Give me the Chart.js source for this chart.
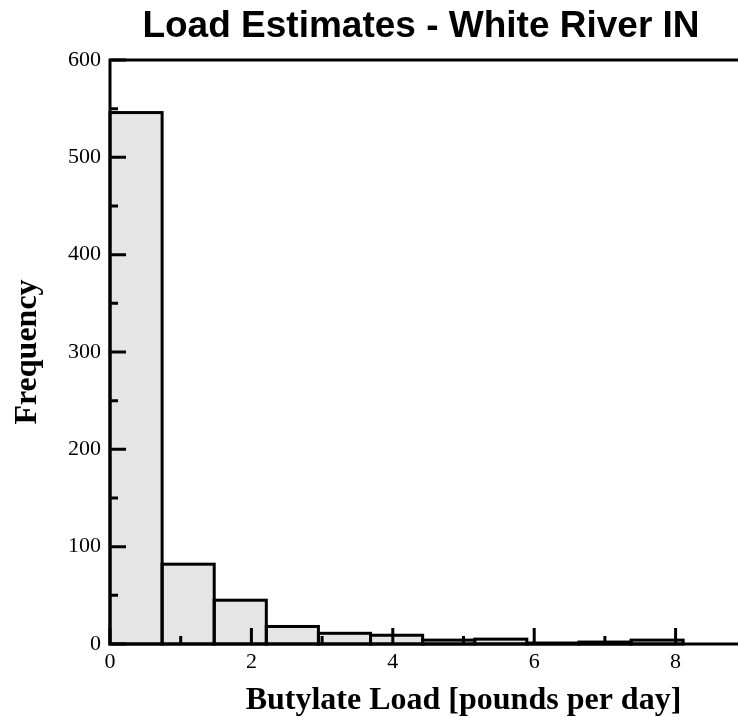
<!DOCTYPE html>
<html>
<head>
<meta charset="utf-8">
<script src="https://cdn.jsdelivr.net/npm/chart.js@4.4.1/dist/chart.umd.min.js"></script>
<style>
  html, body { margin: 0; padding: 0; background: #fff; overflow: hidden; }
  #wrap { width: 738px; height: 717px; overflow: hidden; position: relative; }
  canvas { position: absolute; left: 0; top: 0; }
</style>
</head>
<body>
<div id="wrap"><canvas id="histChart" width="842" height="717"></canvas></div>
<script>
// histogram bins (pounds per day) and counts
const binEdges = [0, 0.737, 1.474, 2.211, 2.948, 3.685, 4.422, 5.159, 5.896, 6.633, 7.370, 8.107];
const frequency = [546, 82, 45, 18, 11, 9, 4, 5, 1, 2, 4];

const xMajor = [0, 2, 4, 6, 8];
const xMinor = [1, 3, 5, 7, 9];
const yMajor = [0, 100, 200, 300, 400, 500, 600];
const yMinor = [50, 150, 250, 350, 450, 550];

const points = frequency.map((f, i) => ({ x: (binEdges[i] + binEdges[i + 1]) / 2, y: f }));

// inward ticks, bar outlines and the box, all placed with the chart's scales
const frameAndTicks = {
  id: 'frameAndTicks',
  afterDatasetsDraw(chart) {
    const ctx = chart.ctx;
    const { left, right, top, bottom } = chart.chartArea;
    const xs = chart.scales.x, ys = chart.scales.y;
    ctx.save();
    ctx.strokeStyle = '#000';
    ctx.lineWidth = 3;
    ctx.lineCap = 'butt';

    chart.getDatasetMeta(0).data.forEach(bar => {
      const p = bar.getProps(['x', 'y', 'base', 'width'], true);
      ctx.strokeRect(p.x - p.width / 2, p.y, p.width, p.base - p.y);
    });

    ctx.beginPath();
    xMajor.forEach(v => { const px = xs.getPixelForValue(v); ctx.moveTo(px, bottom); ctx.lineTo(px, bottom - 16); });
    xMinor.forEach(v => { const px = xs.getPixelForValue(v); ctx.moveTo(px, bottom); ctx.lineTo(px, bottom - 8); });
    yMajor.forEach(v => { const py = ys.getPixelForValue(v); ctx.moveTo(left, py); ctx.lineTo(left + 16, py); });
    yMinor.forEach(v => { const py = ys.getPixelForValue(v); ctx.moveTo(left, py); ctx.lineTo(left + 8, py); });
    ctx.stroke();

    ctx.strokeRect(left, top, right - left, bottom - top);
    ctx.restore();
  }
};

new Chart(document.getElementById('histChart'), {
  type: 'bar',
  data: {
    datasets: [{
      label: 'Frequency',
      data: points,
      backgroundColor: '#e5e5e5',
      borderWidth: 0,
      barPercentage: 1,
      categoryPercentage: 1
    }]
  },
  options: {
    responsive: false,
    animation: false,
    devicePixelRatio: 1,
    layout: { padding: { top: 0, left: 25, right: 25, bottom: 0 } },
    plugins: {
      legend: { display: false },
      tooltip: { enabled: false },
      title: {
        display: true,
        text: 'Load Estimates - White River IN',
        color: '#000',
        font: { family: 'Liberation Sans', size: 37, weight: 'bold', lineHeight: 1 },
        padding: { top: 8, bottom: 15 }
      }
    },
    scales: {
      x: {
        type: 'linear',
        min: 0,
        max: 10,
        offset: false,
        afterFit(scale) { scale.height = 73; },
        afterBuildTicks(scale) { scale.ticks = xMajor.map(v => ({ value: v })); },
        grid: { display: false, drawTicks: false },
        border: { display: false },
        ticks: {
          color: '#000',
          padding: 5,
          maxRotation: 0,
          font: { family: 'Liberation Serif', size: 22 }
        },
        title: {
          display: true,
          text: 'Butylate Load [pounds per day]',
          color: '#000',
          font: { family: 'Liberation Serif', size: 32, weight: 'bold', lineHeight: 1 },
          padding: { top: 0, bottom: 0 }
        }
      },
      y: {
        min: 0,
        max: 600,
        afterFit(scale) { scale.width = 85; },
        afterBuildTicks(scale) { scale.ticks = yMajor.map(v => ({ value: v })); },
        grid: { display: false, drawTicks: false },
        border: { display: false },
        ticks: {
          color: '#000',
          padding: 9,
          font: { family: 'Liberation Serif', size: 22 }
        },
        title: {
          display: true,
          text: 'Frequency',
          color: '#000',
          font: { family: 'Liberation Serif', size: 32, weight: 'bold', lineHeight: 1 },
          padding: { top: -13, bottom: 0 }
        }
      }
    }
  },
  plugins: [frameAndTicks]
});
</script>
</body>
</html>
